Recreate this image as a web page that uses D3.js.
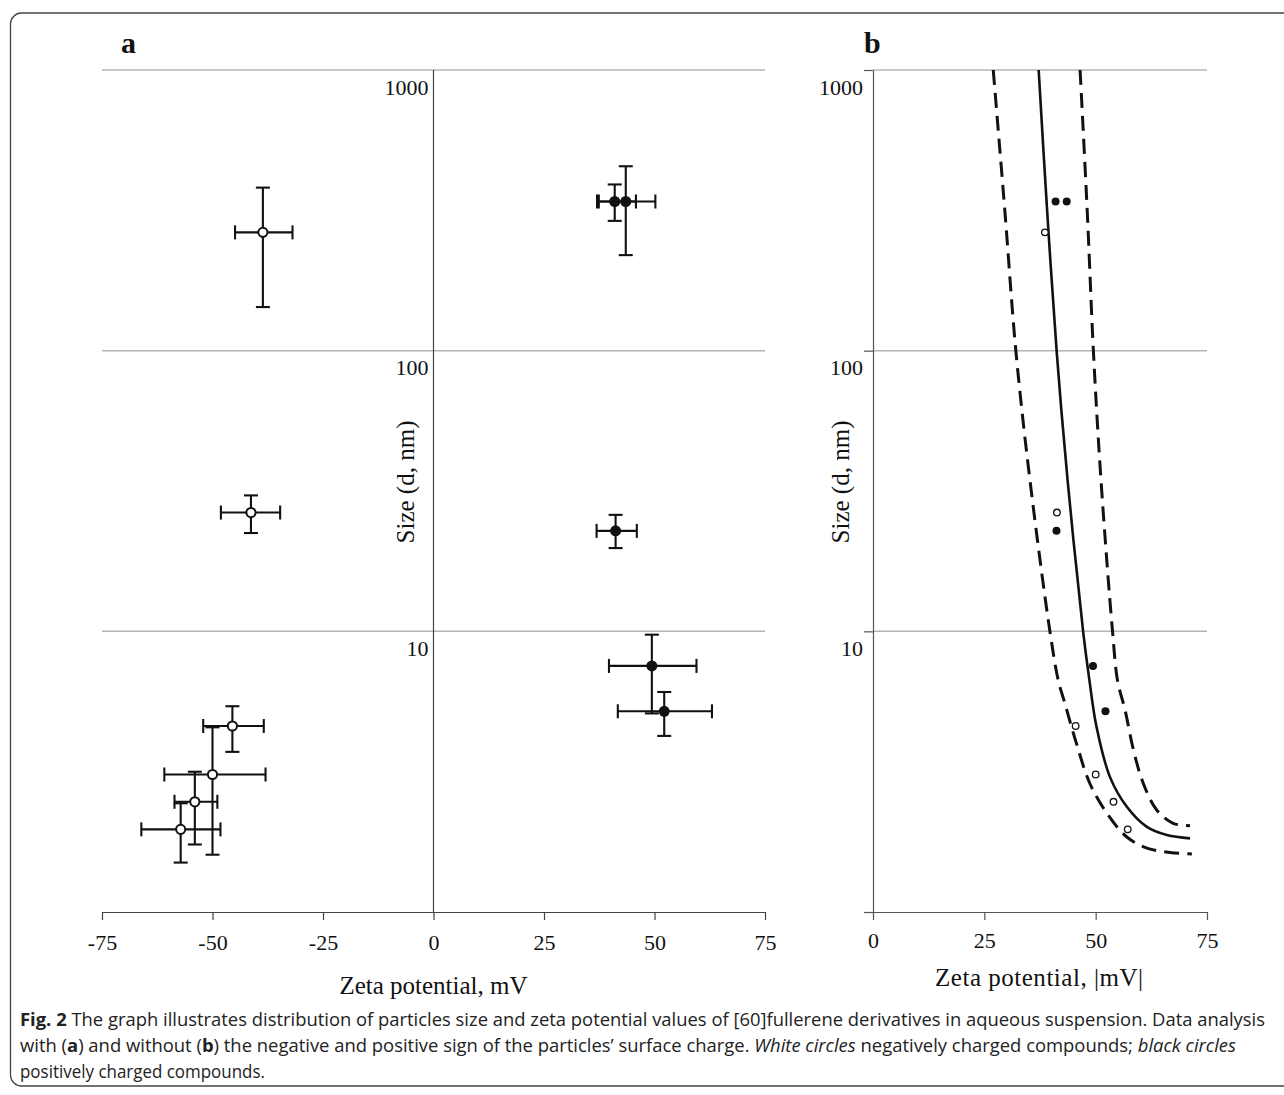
<!DOCTYPE html>
<html><head><meta charset="utf-8">
<script src="https://cdn.jsdelivr.net/npm/d3@7"></script>
<style>
html,body{margin:0;padding:0;background:#fff;}
svg{display:block;}
</style></head>
<body>
<svg id="chart" width="1284" height="1095"></svg>
<script>
// ---------- DATA ----------
// negatively charged compounds (white circles)
const negZeta    = [-38.6, -41.3, -45.5, -50.0, -54.0, -57.2];
const negZetaMin = [-44.9, -48.1, -52.1, -60.9, -58.6, -66.1];
const negZetaMax = [-31.9, -34.7, -38.4, -38.0, -48.9, -48.2];
const negSize    = [264, 26.5, 4.60, 3.09, 2.47, 1.97];
const negSizeMin = [143, 22.4, 3.72, 1.60, 1.74, 1.50];
const negSizeMax = [381, 30.5, 5.41, 4.55, 3.16, 2.44];
// positively charged compounds (black circles)
const posZeta    = [41.0, 43.5, 41.2, 49.4, 52.2];
const posZetaMin = [37.0, 37.4, 36.9, 39.7, 41.7];
const posZetaMax = [45.8, 50.2, 46.0, 59.5, 63.0];
const posSize    = [340, 340, 22.8, 7.53, 5.19];
const posSizeMin = [290, 219, 19.8, 5.10, 4.24];
const posSizeMax = [391, 454, 26.0, 9.73, 6.08];
// fitted curve (solid) and bounds (dashed), panel b
const fitZeta   = [37.2, 39.1, 41.25, 43.7, 47.2, 48.6, 50.2, 53.2, 57.0, 61.5, 66.0, 71.2];
const fitSize   = [1000, 316, 99, 34.5, 9.94, 6.69, 4.56, 3.03, 2.37, 2.01, 1.88, 1.83];
const lowZeta   = [27.0, 29.6, 32.1, 35.25, 39.75, 41.6, 43.1, 45.7, 48.7, 52.5, 57.0, 61.5, 66.7, 71.6];
const lowSize   = [1000, 316, 99, 34.5, 9.94, 6.69, 5.53, 3.98, 2.87, 2.25, 1.85, 1.69, 1.63, 1.61];
const upZeta    = [46.5, 48.1, 49.5, 51.2, 53.8, 54.9, 56.6, 58.5, 60.7, 63.7, 67.4, 71.2];
const upSize    = [1000, 316, 99, 34.5, 9.94, 6.69, 5.24, 3.77, 2.87, 2.31, 2.07, 2.03];
// ticks
const xTicksA = [-75, -50, -25, 0, 25, 50, 75];
const xTicksB = [0, 25, 50, 75];
const yTicks  = [1, 10, 100, 1000];
const yTickLabels = ["", "10", "100", "1000"];

// ---------- DRAW ----------
const svg = d3.select("#chart");
const serif = "'Liberation Serif','Times New Roman',serif";
const ink = "#111";

// frame
svg.append("rect").attr("x",10.5).attr("y",13).attr("width",1300).attr("height",1073)
  .attr("rx",11).attr("fill","none").attr("stroke","#444").attr("stroke-width",1.3);

const y = d3.scaleLog().domain([1,1000]).range([912,70]);
const xa = d3.scaleLinear().domain([-75,75]).range([102,765]);
const xb = d3.scaleLinear().domain([0,75]).range([873,1207]);
const plainFmt = d => String(d);

// ----- Panel a -----
const ga = svg.append("g");
ga.selectAll("line.grid").data(yTicks.filter(d=>d>1)).enter().append("line")
  .attr("x1",xa(-75)).attr("x2",xa(75)).attr("y1",d=>y(d)).attr("y2",d=>y(d))
  .attr("stroke","#b4b4b4").attr("stroke-width",1.5);
ga.append("line").attr("x1",xa(0)).attr("x2",xa(0)).attr("y1",y(1000)).attr("y2",y(1))
  .attr("stroke","#444").attr("stroke-width",1.2);
const axA = ga.append("g").attr("transform",`translate(0,${y(1)})`)
  .call(d3.axisBottom(xa).tickValues(xTicksA).tickFormat(plainFmt).tickSize(8).tickSizeOuter(0).tickPadding(14));
axA.select(".domain").attr("stroke","#444").attr("stroke-width",1.2);
axA.selectAll(".tick line").attr("stroke","#444").attr("stroke-width",1.2);
axA.selectAll("text").attr("font-family",serif).attr("font-size",22).attr("fill",ink);
ga.selectAll("text.yl").data(yTicks).enter().append("text")
  .attr("x",xa(0)-5).attr("y",d=>y(d)+17).attr("dy","0.35em").attr("text-anchor","end")
  .attr("font-family",serif).attr("font-size",22).attr("fill",ink)
  .text((d,i)=>yTickLabels[i]);
ga.append("text").attr("transform",`translate(414,482) rotate(-90)`).attr("text-anchor","middle")
  .attr("font-family",serif).attr("font-size",25).attr("fill",ink).text("Size (d, nm)");
ga.append("text").attr("x",xa(0)).attr("y",994).attr("text-anchor","middle")
  .attr("font-family",serif).attr("font-size",25).attr("fill",ink).text("Zeta potential, mV");
ga.append("text").attr("x",121).attr("y",53).attr("font-family",serif).attr("font-weight","bold")
  .attr("font-size",30).attr("fill",ink).text("a");

function errorBars(g, xs, X, Y, Xmin, Xmax, Ymin, Ymax, cap){
  const eb = g.append("g").attr("stroke",ink).attr("stroke-width",2.1).attr("fill","none");
  X.forEach((_,i)=>{
    const cx = xs(X[i]), cy = y(Y[i]);
    eb.append("line").attr("x1",xs(Xmin[i])).attr("x2",xs(Xmax[i])).attr("y1",cy).attr("y2",cy);
    eb.append("line").attr("x1",xs(Xmin[i])).attr("x2",xs(Xmin[i])).attr("y1",cy-cap).attr("y2",cy+cap);
    eb.append("line").attr("x1",xs(Xmax[i])).attr("x2",xs(Xmax[i])).attr("y1",cy-cap).attr("y2",cy+cap);
    eb.append("line").attr("x1",cx).attr("x2",cx).attr("y1",y(Ymin[i])).attr("y2",y(Ymax[i]));
    eb.append("line").attr("x1",cx-cap).attr("x2",cx+cap).attr("y1",y(Ymin[i])).attr("y2",y(Ymin[i]));
    eb.append("line").attr("x1",cx-cap).attr("x2",cx+cap).attr("y1",y(Ymax[i])).attr("y2",y(Ymax[i]));
  });
}
errorBars(ga, xa, negZeta, negSize, negZetaMin, negZetaMax, negSizeMin, negSizeMax, 7);
errorBars(ga, xa, posZeta, posSize, posZetaMin, posZetaMax, posSizeMin, posSizeMax, 7);
ga.selectAll("circle.neg").data(negZeta).enter().append("circle")
  .attr("cx",d=>xa(d)).attr("cy",(d,i)=>y(negSize[i])).attr("r",4.6)
  .attr("fill","#fff").attr("stroke",ink).attr("stroke-width",2);
ga.selectAll("circle.pos").data(posZeta).enter().append("circle")
  .attr("cx",d=>xa(d)).attr("cy",(d,i)=>y(posSize[i])).attr("r",5.5)
  .attr("fill",ink).attr("stroke","none");

// ----- Panel b -----
const gb = svg.append("g");
gb.selectAll("line.grid").data(yTicks.filter(d=>d>1)).enter().append("line")
  .attr("x1",xb(0)).attr("x2",xb(75)).attr("y1",d=>y(d)).attr("y2",d=>y(d))
  .attr("stroke","#b4b4b4").attr("stroke-width",1.5);
const ayB = gb.append("g").attr("transform",`translate(${xb(0)},0)`)
  .call(d3.axisLeft(y).tickValues(yTicks).tickSize(9).tickSizeOuter(0).tickFormat(""));
ayB.select(".domain").attr("stroke","#555").attr("stroke-width",1.2);
ayB.selectAll(".tick line").attr("stroke","#555").attr("stroke-width",1.2);
const axB = gb.append("g").attr("transform",`translate(0,${y(1)})`)
  .call(d3.axisBottom(xb).tickValues(xTicksB).tickFormat(plainFmt).tickSize(8).tickSizeOuter(0).tickPadding(12));
axB.select(".domain").attr("stroke","#555").attr("stroke-width",1.2);
axB.selectAll(".tick line").attr("stroke","#555").attr("stroke-width",1.2);
axB.selectAll("text").attr("font-family",serif).attr("font-size",22).attr("fill",ink);
gb.selectAll("text.yl").data(yTicks).enter().append("text")
  .attr("x",xb(0)-10).attr("y",d=>y(d)+17).attr("dy","0.35em").attr("text-anchor","end")
  .attr("font-family",serif).attr("font-size",22).attr("fill",ink)
  .text((d,i)=>yTickLabels[i]);
gb.append("text").attr("transform",`translate(849,482) rotate(-90)`).attr("text-anchor","middle")
  .attr("font-family",serif).attr("font-size",25).attr("fill",ink).text("Size (d, nm)");
gb.append("text").attr("x",1039).attr("y",986).attr("text-anchor","middle")
  .attr("font-family",serif).attr("font-size",25).attr("fill",ink)
  .attr("textLength",208).attr("lengthAdjust","spacing").text("Zeta potential, |mV|");
gb.append("text").attr("x",864).attr("y",53).attr("font-family",serif).attr("font-weight","bold")
  .attr("font-size",30).attr("fill",ink).text("b");

const lineGen = d3.line().x(d=>xb(d[0])).y(d=>y(d[1])).curve(d3.curveCatmullRom.alpha(0.5));
gb.append("path").attr("d",lineGen(lowZeta.map((z,i)=>[z,lowSize[i]])))
  .attr("fill","none").attr("stroke",ink).attr("stroke-width",3).attr("stroke-dasharray","15,8");
gb.append("path").attr("d",lineGen(upZeta.map((z,i)=>[z,upSize[i]])))
  .attr("fill","none").attr("stroke",ink).attr("stroke-width",3).attr("stroke-dasharray","15,8");
gb.append("path").attr("d",lineGen(fitZeta.map((z,i)=>[z,fitSize[i]])))
  .attr("fill","none").attr("stroke",ink).attr("stroke-width",2.6);
gb.selectAll("circle.neg").data(negZeta).enter().append("circle")
  .attr("cx",d=>xb(Math.abs(d))).attr("cy",(d,i)=>y(negSize[i])).attr("r",3.3)
  .attr("fill","#fff").attr("stroke",ink).attr("stroke-width",1.3);
gb.selectAll("circle.pos").data(posZeta).enter().append("circle")
  .attr("cx",d=>xb(Math.abs(d))).attr("cy",(d,i)=>y(posSize[i])).attr("r",4)
  .attr("fill",ink);

// ----- Caption -----
const cap = svg.append("g").attr("font-family","'Open Sans','Noto Sans',sans-serif")
  .attr("font-size",18).attr("fill","#222");
const l1 = cap.append("text").attr("x",20).attr("y",1026).attr("textLength",1245).attr("lengthAdjust","spacingAndGlyphs");
l1.append("tspan").attr("font-weight","bold").text("Fig. 2");
l1.append("tspan").text("  The graph illustrates distribution of particles size and zeta potential values of [60]fullerene derivatives in aqueous suspension. Data analysis");
const l2 = cap.append("text").attr("x",20).attr("y",1052).attr("textLength",1216).attr("lengthAdjust","spacingAndGlyphs");
l2.append("tspan").text("with (");
l2.append("tspan").attr("font-weight","bold").text("a");
l2.append("tspan").text(") and without (");
l2.append("tspan").attr("font-weight","bold").text("b");
l2.append("tspan").text(") the negative and positive sign of the particles\u2019 surface charge. ");
l2.append("tspan").attr("font-style","italic").text("White circles");
l2.append("tspan").text(" negatively charged compounds; ");
l2.append("tspan").attr("font-style","italic").text("black circles");
const l3 = cap.append("text").attr("x",20).attr("y",1078).attr("textLength",245).attr("lengthAdjust","spacingAndGlyphs");
l3.text("positively charged compounds.");
</script>
</body></html>
